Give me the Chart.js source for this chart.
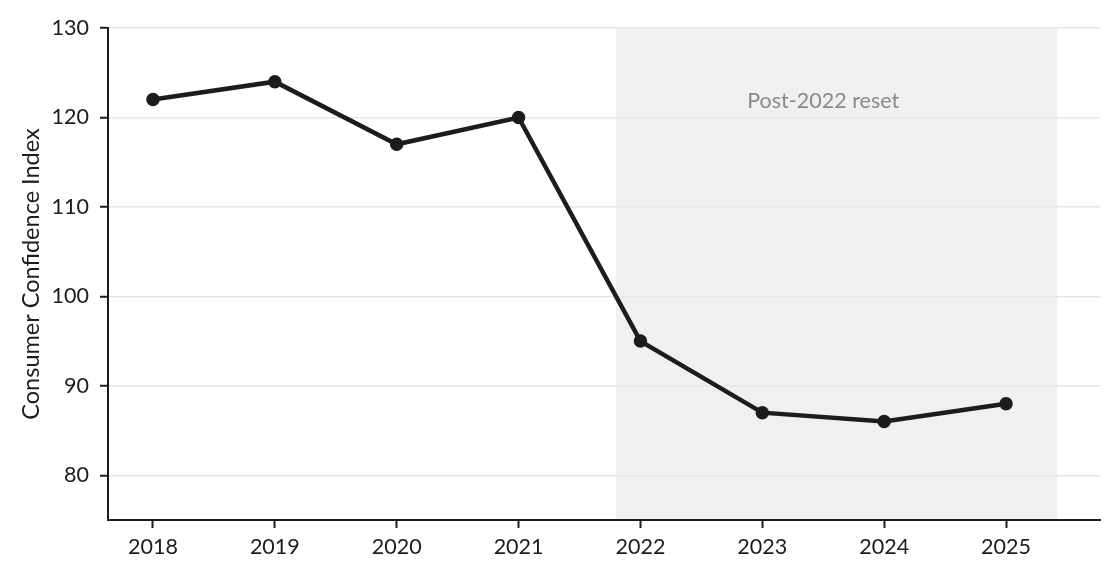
<!DOCTYPE html>
<html>
<head>
<meta charset="utf-8">
<script src="https://cdn.jsdelivr.net/npm/chart.js@4.4.1/dist/chart.umd.min.js"></script>
<style>
  html, body { margin: 0; padding: 0; background: #fff; }
  #wrap { width: 1120px; height: 580px; position: relative; }
</style>
</head>
<body>
<div id="wrap"><canvas id="chart"></canvas></div>
<script>
const years = [2018, 2019, 2020, 2021, 2022, 2023, 2024, 2025];
const confidence = [122, 124, 117, 120, 95, 87, 86, 88];
const yTicks = [80, 90, 100, 110, 120, 130];
const shadeFrom = 2021.8;
const shadeTo = 2025.42;
const shadeLabel = 'Post-2022 reset';

const ink = '#1c1c1c';
const fontFamily = 'Lato, "Open Sans", sans-serif';
const tickSize = 21.5;

// grey band behind the post-2022 years
const resetBand = {
  id: 'resetBand',
  beforeDraw(chart) {
    const { ctx, chartArea, scales } = chart;
    const x0 = scales.x.getPixelForValue(shadeFrom);
    const x1 = scales.x.getPixelForValue(shadeTo);
    ctx.save();
    ctx.fillStyle = '#f0f0f0';
    ctx.fillRect(x0, chartArea.top, x1 - x0, chartArea.bottom - chartArea.top);
    ctx.fillStyle = '#8a8a8a';
    ctx.font = tickSize + 'px ' + fontFamily;
    ctx.textAlign = 'center';
    ctx.textBaseline = 'middle';
    ctx.fillText(shadeLabel, scales.x.getPixelForValue(2023.5), scales.y.getPixelForValue(121.8));
    ctx.restore();
  }
};

function initializeChart() {
  const ctx = document.getElementById('chart').getContext('2d');
  return new Chart(ctx, {
    type: 'line',
    data: {
      datasets: [{
        label: 'Consumer Confidence Index',
        data: years.map((yr, i) => ({ x: yr, y: confidence[i] })),
        borderColor: ink,
        backgroundColor: ink,
        borderWidth: 4.5,
        pointRadius: 6,
        pointBorderWidth: 1.5,
        pointBackgroundColor: ink,
        pointBorderColor: ink,
        tension: 0
      }]
    },
    options: {
      responsive: true,
      maintainAspectRatio: false,
      animation: false,
      layout: { padding: { top: 28, right: 20, bottom: 0, left: 0 } },
      plugins: {
        legend: { display: false },
        tooltip: { enabled: false }
      },
      scales: {
        x: {
          type: 'linear',
          min: 2017.631,
          max: 2025.771,
          afterFit: scale => { scale.height = 60; },
          border: { color: ink, width: 2 },
          grid: { drawOnChartArea: false, tickColor: ink, tickLength: 8, tickWidth: 2 },
          ticks: {
            stepSize: 1,
            includeBounds: false,
            padding: 6,
            color: ink,
            font: { family: fontFamily, size: tickSize },
            callback: v => years.includes(v) ? String(v) : ''
          }
        },
        y: {
          min: 75,
          max: 130,
          afterFit: scale => { scale.width = 108; },
          border: { color: ink, width: 2 },
          grid: { color: '#e6e6e6', lineWidth: 1.5, tickColor: ink, tickLength: 8, tickWidth: 2 },
          ticks: {
            stepSize: 10,
            includeBounds: false,
            padding: 11,
            color: ink,
            font: { family: fontFamily, size: tickSize },
            callback: v => yTicks.includes(v) ? String(v) : ''
          },
          title: {
            display: true,
            text: 'Consumer Confidence Index',
            color: ink,
            font: { family: fontFamily, size: 23.5 },
            padding: { top: 17, bottom: 0 }
          }
        }
      }
    },
    plugins: [resetBand]
  });
}

initializeChart();
</script>
</body>
</html>
